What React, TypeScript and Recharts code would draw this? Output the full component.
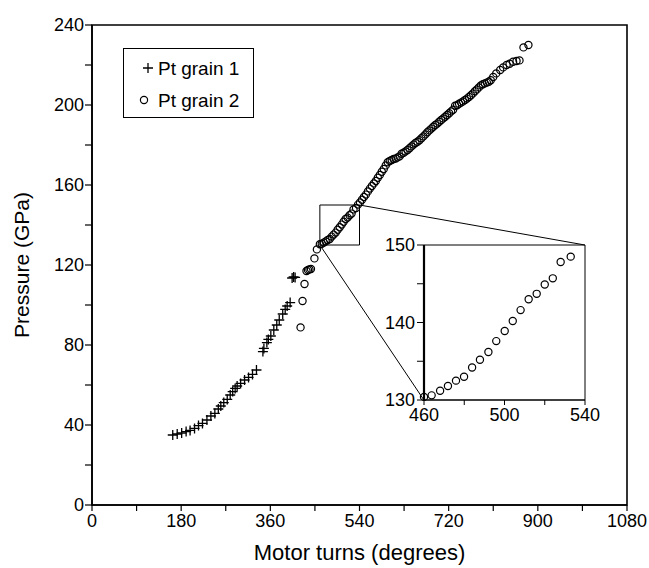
import { Legend, ReferenceArea, ReferenceLine, Scatter, ScatterChart, XAxis, YAxis } from "recharts";

const FONT = "'Liberation Sans', Arial, Helvetica, sans-serif";

// Pt grain 1 (crosses), motor turns in degrees and pressure in GPa
const GRAIN1_TURNS = [
  163, 172, 181, 190, 198, 207, 215, 223, 232, 240, 248, 255, 260, 266, 273, 279, 284, 289, 293, 300,
  308, 316, 324, 332, 345, 347, 353, 356, 361, 367, 373, 378, 385, 390, 394, 400, 404, 407, 410,
];
const GRAIN1_PRESSURE = [
  35, 35.5, 36, 36.7, 37.3, 38.3, 39.7, 40.8, 42.5, 44.5, 45.8, 48, 49.5, 51.2, 52.8, 55, 56.7, 58.3, 59.5, 60.8,
  62.5, 63.8, 65.3, 67.5, 76.7, 78.3, 81.2, 82.8, 84.5, 87.5, 90, 92.5, 95.5, 97.8, 99.5, 101.2, 113.5, 114, 113.8,
];

// Pt grain 2 (open circles)
const GRAIN2_TURNS = [
  421, 425, 429, 433, 436, 439, 442, 449, 454,
  460, 463.8, 468, 471.9, 475.9, 479.9, 483.9, 487.8, 492, 495.9, 500.1, 504.1, 508, 512, 516, 520, 524, 527.9, 532.9,
  537, 541, 545, 549, 553, 557, 561, 565, 569, 573, 577, 581, 585, 589, 593, 597, 601, 605, 609, 613, 617, 621,
  625, 629, 633, 637, 641, 645, 649, 653, 657, 661, 665, 669, 673, 677, 681, 685, 689, 693, 697, 701, 705, 709,
  713, 717, 721, 725, 729, 733, 737, 741, 745, 749, 753, 757, 761, 765, 769, 773, 777, 781, 785, 789, 793, 797,
  801, 805, 810, 816, 824, 830, 837, 843, 850, 857, 863, 871, 881,
];
const GRAIN2_PRESSURE = [
  88.8, 102, 110.5, 117, 117.5, 117.8, 118, 123.3, 127.8,
  130.4, 130.6, 131.2, 131.8, 132.5, 133, 134.2, 135.2, 136.2, 137.6, 138.9, 140.2, 141.6, 143, 143.7, 144.9, 145.7, 147.8, 148.5,
  150.2, 151.3, 152.6, 154, 155.2, 156.8, 158.2, 159.5, 160.8, 162, 163.6, 165, 166.6, 168, 169.8, 171.4, 172, 172.5, 173, 173.2, 173.8, 174.3,
  175.6, 176.1, 176.8, 177.5, 178.4, 179.3, 180.2, 181, 181.6, 182.4, 183.4, 184.3, 185.3, 186.4, 187.3, 188.2, 189.1, 190, 190.7, 191.6, 192.5, 193.3,
  194.1, 195, 195.9, 196.8, 197.6, 199.6, 199.9, 200.6, 201.2, 201.8, 202.5, 203.2, 204, 204.9, 205.8, 206.9, 207.8, 208.8, 209.8, 210.4, 210.8, 211.2,
  211.6, 212.4, 214, 215.8, 217.5, 218.8, 220, 220.6, 221.6, 222, 222.3, 228.8, 230,
];

const SERIES_NAMES = ["Pt grain 1", "Pt grain 2"];

const X_TICKS = [0, 90, 180, 270, 360, 450, 540, 630, 720, 810, 900, 990, 1080];
const Y_TICKS = [0, 20, 40, 60, 80, 100, 120, 140, 160, 180, 200, 220, 240];
const INSET_X_TICKS = [460, 480, 500, 520, 540];
const INSET_Y_TICKS = [130, 135, 140, 145, 150];

// zoomed window and where the inset sits, in main-chart units
const ZOOM = { x1: 460, x2: 540, y1: 130, y2: 150 };
const INSET_CORNERS = { left: 670, right: 995, bottom: 52.5, top: 130 };

const grain1 = GRAIN1_TURNS.map((x, i) => ({ x, y: GRAIN1_PRESSURE[i] }));
const grain2 = GRAIN2_TURNS.map((x, i) => ({ x, y: GRAIN2_PRESSURE[i] }));
const grain2Zoom = grain2.filter(
  (d) => d.x >= ZOOM.x1 - 1 && d.x <= ZOOM.x2 && d.y >= ZOOM.y1 - 1 && d.y <= ZOOM.y2,
);

const Plus = (props: any) => {
  const { cx, cy } = props;
  return (
    <path
      d={`M${cx - 5},${cy}H${cx + 5}M${cx},${cy - 5}V${cy + 5}`}
      stroke="#000"
      strokeWidth={1.3}
      fill="none"
    />
  );
};

const Ring = (props: any) => {
  const { cx, cy } = props;
  return <circle cx={cx} cy={cy} r={3.6} fill="none" stroke="#000" strokeWidth={1.2} />;
};

const tickStyle = { fill: "#000", fontSize: 18, fontFamily: FONT };

function LegendBox() {
  return (
    <div
      style={{
        width: 131,
        height: 70,
        boxSizing: "border-box",
        border: "1.5px solid #000",
        background: "#fff",
        position: "relative",
      }}
    >
      <svg width={131} height={70} style={{ position: "absolute", left: -1.5, top: -1.5 }}>
        <Plus cx={25} cy={20} />
        <Ring cx={21} cy={52} />
        <text x={35} y={27} fontSize={19} fontFamily={FONT}>
          {SERIES_NAMES[0]}
        </text>
        <text x={35} y={59} fontSize={19} fontFamily={FONT}>
          {SERIES_NAMES[1]}
        </text>
      </svg>
    </div>
  );
}

export default function App() {
  return (
    <div style={{ position: "absolute", left: 0, top: 0, width: 649, height: 568, background: "#fff" }}>
      <ScatterChart width={649} height={568} margin={{ top: 25, right: 22, bottom: 0, left: 0 }}>
        <XAxis
          type="number"
          dataKey="x"
          domain={[0, 1080]}
          ticks={X_TICKS}
          interval={0}
          tickSize={6}
          tickMargin={3}
          height={63}
          tick={tickStyle}
          tickLine={{ stroke: "#000", strokeWidth: 1.2 }}
          axisLine={{ stroke: "#000", strokeWidth: 1.6 }}
          tickFormatter={(v: number) => (v % 180 === 0 ? String(v) : "")}
          label={{ value: "Motor turns (degrees)", position: "insideBottom", offset: 8, style: { fill: "#000", fontSize: 22, fontFamily: FONT } }}
        />
        <YAxis
          type="number"
          dataKey="y"
          domain={[0, 240]}
          ticks={Y_TICKS}
          interval={0}
          width={92}
          tickSize={7}
          tickMargin={1}
          tick={tickStyle}
          tickLine={{ stroke: "#000", strokeWidth: 1.2 }}
          axisLine={{ stroke: "#000", strokeWidth: 1.6 }}
          tickFormatter={(v: number) => (v % 40 === 0 ? String(v) : "")}
          label={{ value: "Pressure (GPa)", angle: -90, position: "insideLeft", offset: 22, style: { fill: "#000", fontSize: 21, fontFamily: FONT, textAnchor: "middle" } }}
        />
        <ReferenceArea x1={0} x2={1080} y1={0} y2={240} fill="none" stroke="#000" strokeWidth={1.6} />
        <ReferenceArea x1={ZOOM.x1} x2={ZOOM.x2} y1={ZOOM.y1} y2={ZOOM.y2} fill="none" stroke="#000" strokeWidth={1} />
        <ReferenceLine
          segment={[
            { x: ZOOM.x2, y: ZOOM.y2 },
            { x: INSET_CORNERS.right, y: INSET_CORNERS.top },
          ]}
          stroke="#000"
          strokeWidth={1}
        />
        <ReferenceLine
          segment={[
            { x: ZOOM.x1, y: ZOOM.y1 },
            { x: INSET_CORNERS.left, y: INSET_CORNERS.bottom },
          ]}
          stroke="#000"
          strokeWidth={1}
        />
        <Scatter name={SERIES_NAMES[0]} data={grain1} shape={Plus} isAnimationActive={false} />
        <Scatter name={SERIES_NAMES[1]} data={grain2} shape={Ring} isAnimationActive={false} />
        <Legend
          layout="vertical"
          align="center"
          verticalAlign="middle"
          wrapperStyle={{ left: 123, top: 48, width: 131, height: 70 }}
          content={() => <LegendBox />}
        />
      </ScatterChart>

      <div style={{ position: "absolute", left: 384, top: 230 }}>
        <ScatterChart width={225} height={200} margin={{ top: 15, right: 24, bottom: 0, left: 0 }}>
          <XAxis
            type="number"
            dataKey="x"
            domain={[ZOOM.x1, ZOOM.x2]}
            ticks={INSET_X_TICKS}
            interval={0}
            height={30}
            tickSize={5}
            tickMargin={3}
            tick={tickStyle}
            tickLine={{ stroke: "#000", strokeWidth: 1 }}
            axisLine={{ stroke: "#000", strokeWidth: 1.2 }}
            tickFormatter={(v: number) => ((v - ZOOM.x1) % 40 === 0 ? String(v) : "")}
          />
          <YAxis
            type="number"
            dataKey="y"
            domain={[ZOOM.y1, ZOOM.y2]}
            ticks={INSET_Y_TICKS}
            interval={0}
            width={40}
            tickSize={7}
            tickMargin={2}
            tick={tickStyle}
            tickLine={{ stroke: "#000", strokeWidth: 1 }}
            axisLine={{ stroke: "#000", strokeWidth: 2.2 }}
            tickFormatter={(v: number) => (v % 10 === 0 ? String(v) : "")}
          />
          <ReferenceArea x1={ZOOM.x1} x2={ZOOM.x2} y1={ZOOM.y1} y2={ZOOM.y2} fill="none" stroke="#000" strokeWidth={1} />
          <Scatter data={grain2Zoom} shape={Ring} isAnimationActive={false} />
        </ScatterChart>
      </div>
    </div>
  );
}
